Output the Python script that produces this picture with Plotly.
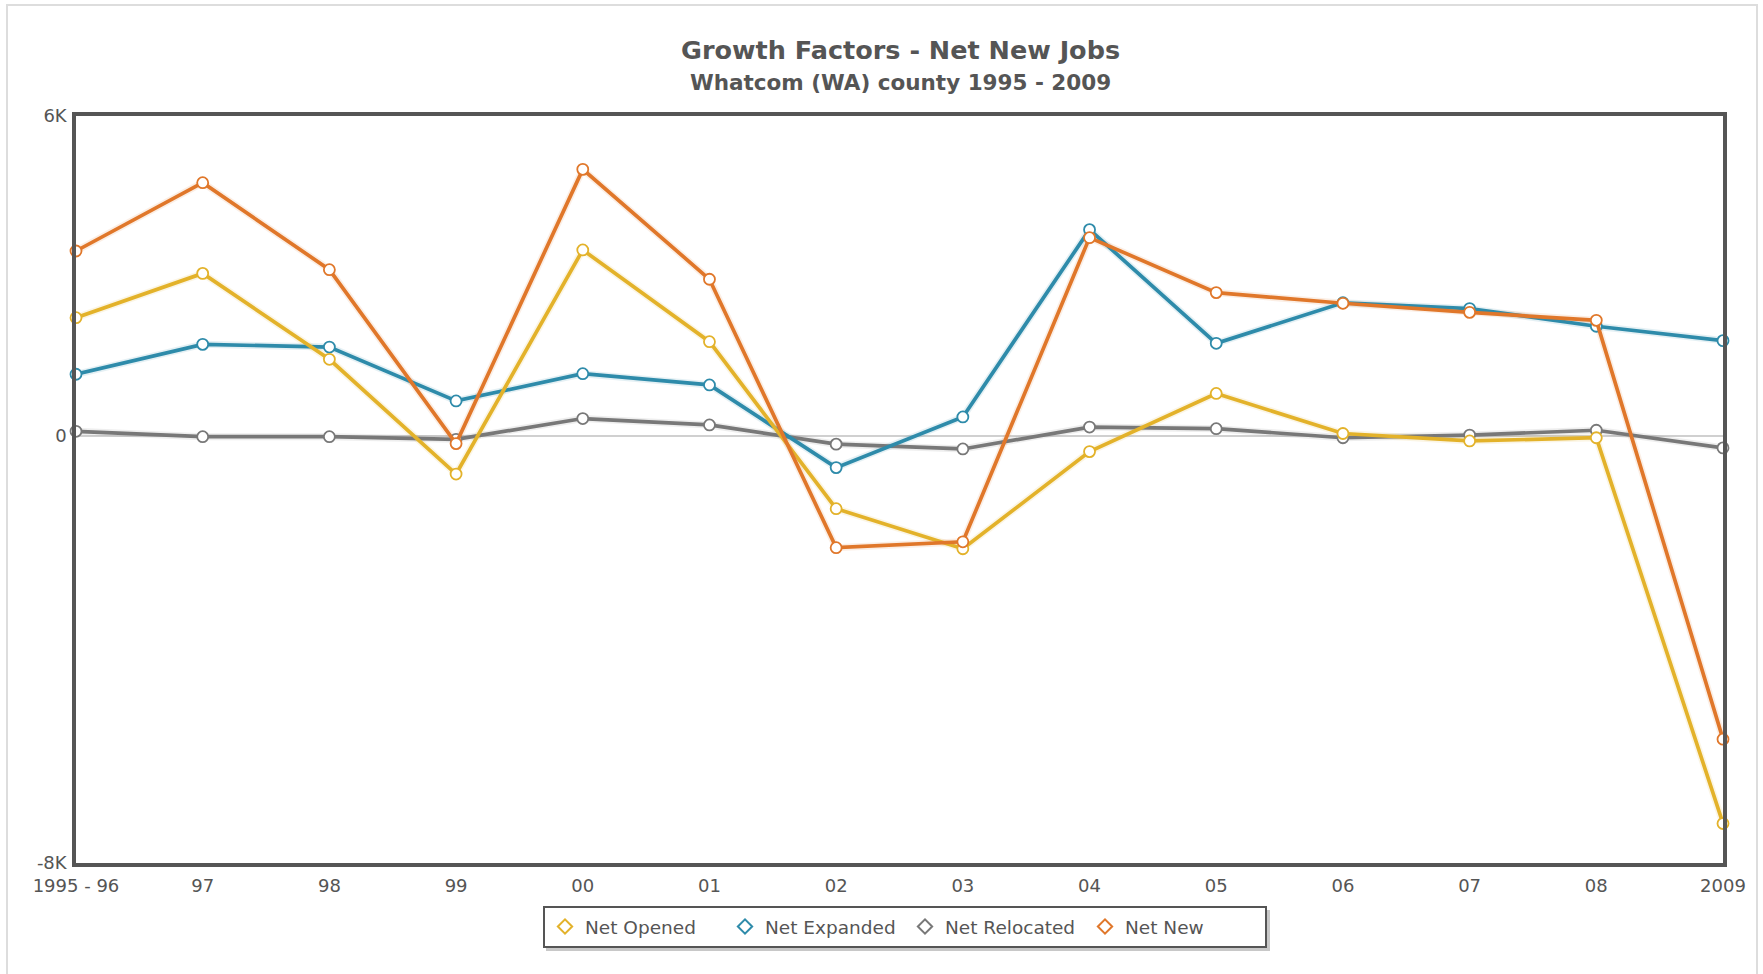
import plotly.graph_objects as go

categories = ["1995 - 96", "97", "98", "99", "00", "01", "02", "03", "04", "05", "06", "07", "08", "2009"]
net_opened = [2220, 3050, 1440, -710, 3490, 1770, -1360, -2110, -290, 800, 50, -90, -30, -7260]
net_expanded = [1160, 1720, 1670, 660, 1170, 960, -590, 360, 3870, 1740, 2500, 2390, 2060, 1790]
net_relocated = [90, -10, -10, -60, 330, 210, -150, -240, 170, 140, -30, 20, 110, -220]
net_new = [3470, 4750, 3120, -140, 5000, 2940, -2090, -1980, 3720, 2690, 2490, 2320, 2170, -5680]

series = [
    ("Net Opened", net_opened, "#E3B22A"),
    ("Net Expanded", net_expanded, "#2E8BAA"),
    ("Net Relocated", net_relocated, "#787878"),
    ("Net New", net_new, "#E0772A"),
]

y_tickvals = [6000, 0, -8000]
y_ticktext = ["6K", "0", "-8K"]

W, H = 1763, 974
L, R, T, B = 76, 40, 116, 111
pw, ph = W - L - R, H - T - B

def px_x(p):
    return (p - L) / pw

def px_y(p):
    return (H - B - p) / ph

fig = go.Figure()
x_idx = list(range(len(categories)))
order = [2, 1, 0, 3]
for i in order:
    name, vals, col = series[i]
    fig.add_trace(go.Scatter(
        x=x_idx, y=vals, mode="lines", showlegend=False, hoverinfo="skip",
        line=dict(color=col, width=7), opacity=0.12, cliponaxis=False,
    ))
for i in order:
    name, vals, col = series[i]
    fig.add_trace(go.Scatter(
        x=x_idx, y=vals, mode="lines+markers", name=name, showlegend=False,
        line=dict(color=col, width=3.7),
        marker=dict(symbol="circle", size=11, color="white", line=dict(color=col, width=1.8)),
        cliponaxis=False,
    ))
for name, vals, col in series:
    fig.add_trace(go.Scatter(
        x=[None], y=[None], mode="markers", name=name,
        marker=dict(symbol="diamond-open", size=11, color=col, line=dict(color=col, width=2)),
    ))

TXT = "#555555"
fig.update_layout(
    width=W, height=H,
    margin=dict(l=L, r=R, t=T, b=B),
    paper_bgcolor="white", plot_bgcolor="white",
    font=dict(family="DejaVu Sans, Verdana, sans-serif", color=TXT, size=17),
    showlegend=True,
    legend=dict(
        orientation="h", x=px_x(905), xanchor="center", y=px_y(927), yanchor="middle",
        bordercolor="#555555", borderwidth=2, bgcolor="white",
        font=dict(size=18.5, color=TXT), itemwidth=30, entrywidth=135,
        tracegroupgap=0,
    ),
    xaxis=dict(
        tickmode="array", tickvals=x_idx, ticktext=categories, range=[0, len(categories) - 1],
        showgrid=False, zeroline=False, showline=True, linecolor="#555555", linewidth=3.5,
        mirror=True, ticks="", tickfont=dict(size=18, color=TXT), ticklabelstandoff=4,
    ),
    yaxis=dict(
        tickmode="array", tickvals=y_tickvals, ticktext=y_ticktext, range=[-8000, 6000],
        showgrid=False, zeroline=True, zerolinecolor="#d0d0d0", zerolinewidth=1.5,
        showline=True, linecolor="#555555", linewidth=3.5, mirror=True, ticks="",
        tickfont=dict(size=18, color=TXT), ticklabelstandoff=2,
    ),
    annotations=[
        dict(text="<b>Growth Factors - Net New Jobs</b>", xref="paper", yref="paper",
             x=px_x(900), y=px_y(50), xanchor="center", yanchor="middle", showarrow=False,
             font=dict(size=25.5, color=TXT)),
        dict(text="<b>Whatcom (WA) county 1995 - 2009</b>", xref="paper", yref="paper",
             x=px_x(900), y=px_y(82), xanchor="center", yanchor="middle", showarrow=False,
             font=dict(size=21.5, color=TXT)),
    ],
    shapes=[
        dict(type="rect", xref="paper", yref="paper", x0=px_x(7), x1=px_x(1757),
             y0=px_y(990), y1=px_y(5), line=dict(color="#dddddd", width=2), layer="below"),
        dict(type="rect", xref="paper", yref="paper", x0=px_x(546), x1=px_x(1270),
             y0=px_y(951), y1=px_y(910), line=dict(width=0), fillcolor="#c8c8c8", layer="below"),
    ],
)

fig.write_html("out.html")
